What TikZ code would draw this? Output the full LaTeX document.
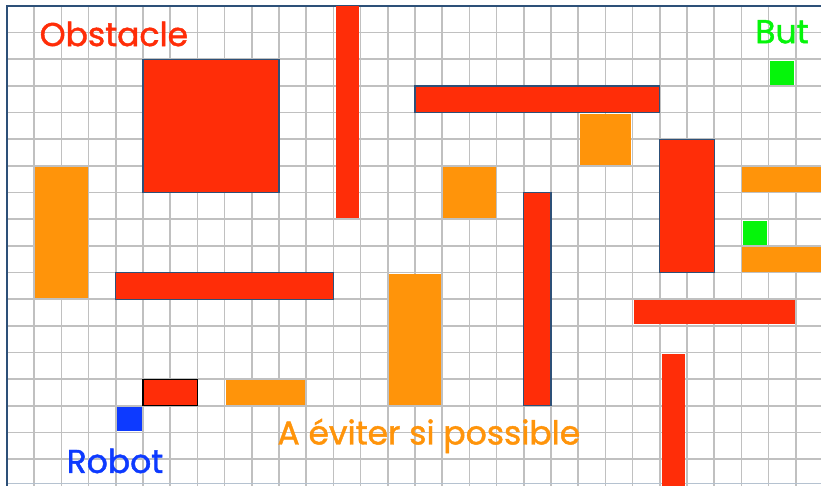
\documentclass[tikz,border=0pt]{standalone}
\usepackage{fontspec}
\setmainfont{Poppins}
\newfontfamily\labelfont{Poppins}[FakeBold=1.3]
\definecolor{obsred}{RGB}{255,45,8}
\definecolor{avoidorange}{RGB}{255,148,10}
\definecolor{robotblue}{RGB}{13,58,255}
\definecolor{goalgreen}{RGB}{5,245,10}
\definecolor{framblue}{RGB}{45,80,120}
\definecolor{gridgray}{RGB}{192,192,192}
\tikzset{
  gridline/.style={draw=gridgray, line width=1.6pt},
  frameline/.style={draw=framblue, line width=1.6pt},
  redbox/.style={fill=obsred, draw=framblue, line width=1.2pt},
  redplain/.style={fill=obsred},
  redblack/.style={fill=obsred, draw=black, line width=1.2pt},
  orangebox/.style={fill=avoidorange},
  greenbox/.style={fill=goalgreen},
  bluebox/.style={fill=robotblue},
  lbl/.style={inner sep=0pt, font=\labelfont\fontsize{33}{33}\selectfont}
}
\begin{document}
\begin{tikzpicture}[x=27.2pt,y=-26.65pt]
\useasboundingbox (-0.2574,-0.2251) rectangle (29.926,17.974);
\fill[white] (-0.2574,-0.2251) rectangle (29.926,17.974);
\begin{scope}
\clip (-0.2574,-0.2251) rectangle (29.926,17.974);
\foreach \i in {1,...,29} \draw[gridline] (\i,0) -- (\i,18.3);
\foreach \j in {1,...,17} \draw[gridline] (0,\j) -- (30.3,\j);
\draw[draw=framblue!35, line width=1.2pt] (0,17.93) -- (30.3,17.93);
\draw[frameline] (0,18.3) -- (0,0) -- (30.3,0);
% red obstacles
\draw[redbox] (5,2) rectangle (10,7);
\fill[redplain] (12.08,0) rectangle (12.95,7.95);
\draw[redbox] (15,3) rectangle (24,4);
\draw[redbox] (24,5) rectangle (26,10);
\draw[redbox] (19,7) rectangle (20,15);
\draw[redbox] (4,10) rectangle (12,11);
\fill[redplain] (23.05,11.05) rectangle (28.97,11.95);
\fill[redplain] (24.07,13.05) rectangle (24.93,18.3);
\draw[redblack] (5,14) rectangle (7,15);
% orange zones
\fill[orangebox] (1.03,6.03) rectangle (2.97,10.97);
\fill[orangebox] (21.05,4.05) rectangle (22.95,5.95);
\fill[orangebox] (16.03,6.03) rectangle (17.97,7.97);
\fill[orangebox] (27.03,6.03) rectangle (30.3,6.97);
\fill[orangebox] (27.03,9.03) rectangle (30.3,9.97);
\fill[orangebox] (14.05,10.05) rectangle (15.95,14.97);
\fill[orangebox] (8.05,14.03) rectangle (10.97,14.97);
% goals and robot
\fill[greenbox] (28.05,2.05) rectangle (28.95,2.95);
\fill[greenbox] (27.05,8.05) rectangle (27.95,8.95);
\fill[bluebox] (4.05,15.05) rectangle (4.95,15.95);
\end{scope}
% labels
\node[lbl, text=obsred] (obstacle) at (3.93,1.05) {Obstacle};
\node[lbl, text=goalgreen] (but) at (28.49,0.97) {But};
\node[lbl, text=robotblue] (robot) at (3.97,17.07) {Robot};
\node[lbl, text=avoidorange] (eviter) at (15.51,16.13) {A éviter si possible};
\end{tikzpicture}
\end{document}
